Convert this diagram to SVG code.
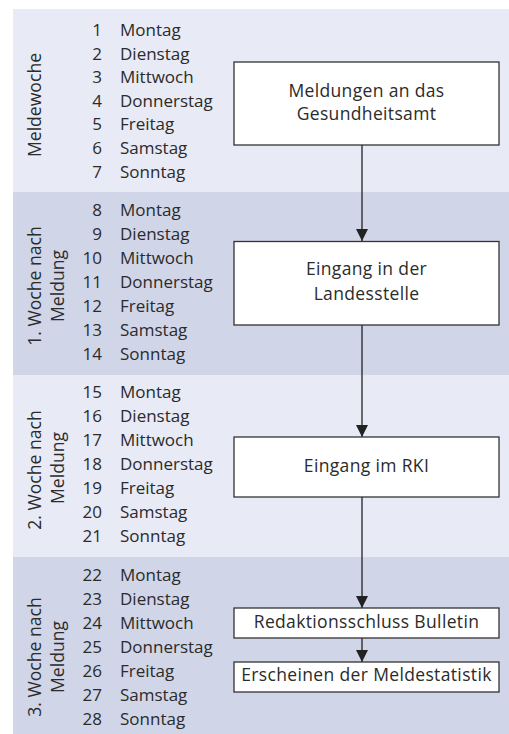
<svg xmlns="http://www.w3.org/2000/svg" width="509" height="734" viewBox="0 0 509 734">
<style>
text{font-family:"Open Sans","Noto Sans","DejaVu Sans",sans-serif;font-size:17px;fill:#2b2b2b}
.n{text-anchor:end}
.c{text-anchor:middle}
.v{text-anchor:middle;font-size:17.6px}
.b{text-anchor:middle;font-size:17.5px;letter-spacing:0.35px}
.box{fill:#fff;stroke:#333;stroke-width:1.3}
.ln{stroke:#222;stroke-width:1.3;fill:none}
</style>
<defs>
<marker id="ah" markerWidth="12" markerHeight="12" viewBox="0 0 12 12" refX="12" refY="6" orient="auto" markerUnits="userSpaceOnUse">
<path d="M0,0 L12,6 L0,12 Z" fill="#222"/>
</marker>
</defs>
<g id="bands">
<rect x="13" y="9" width="496" height="183" fill="#e8eaf5"/>
<rect x="13" y="192" width="496" height="183" fill="#d0d5e8"/>
<rect x="13" y="375" width="496" height="182" fill="#e8eaf5"/>
<rect x="13" y="557" width="496" height="177" fill="#d0d5e8"/>
</g>
<g id="week0">
<text class="v" transform="translate(41,105) rotate(-90)">Meldewoche</text>
<text class="n" x="102" y="36">1</text><text x="120" y="36">Montag</text>
<text class="n" x="102" y="60">2</text><text x="120" y="60">Dienstag</text>
<text class="n" x="102" y="83">3</text><text x="120" y="83">Mittwoch</text>
<text class="n" x="102" y="107">4</text><text x="120" y="107">Donnerstag</text>
<text class="n" x="102" y="130">5</text><text x="120" y="130">Freitag</text>
<text class="n" x="102" y="154">6</text><text x="120" y="154">Samstag</text>
<text class="n" x="102" y="178">7</text><text x="120" y="178">Sonntag</text>
</g>
<g id="week1">
<text class="v" transform="translate(41,286) rotate(-90)">1. Woche nach</text>
<text class="v" transform="translate(64,286) rotate(-90)">Meldung</text>
<text class="n" x="102" y="216">8</text><text x="120" y="216">Montag</text>
<text class="n" x="102" y="240">9</text><text x="120" y="240">Dienstag</text>
<text class="n" x="102" y="264">10</text><text x="120" y="264">Mittwoch</text>
<text class="n" x="102" y="288">11</text><text x="120" y="288">Donnerstag</text>
<text class="n" x="102" y="312">12</text><text x="120" y="312">Freitag</text>
<text class="n" x="102" y="336">13</text><text x="120" y="336">Samstag</text>
<text class="n" x="102" y="360">14</text><text x="120" y="360">Sonntag</text>
</g>
<g id="week2">
<text class="v" transform="translate(41,470) rotate(-90)">2. Woche nach</text>
<text class="v" transform="translate(64,468) rotate(-90)">Meldung</text>
<text class="n" x="102" y="398">15</text><text x="120" y="398">Montag</text>
<text class="n" x="102" y="422">16</text><text x="120" y="422">Dienstag</text>
<text class="n" x="102" y="446">17</text><text x="120" y="446">Mittwoch</text>
<text class="n" x="102" y="470">18</text><text x="120" y="470">Donnerstag</text>
<text class="n" x="102" y="494">19</text><text x="120" y="494">Freitag</text>
<text class="n" x="102" y="518">20</text><text x="120" y="518">Samstag</text>
<text class="n" x="102" y="542">21</text><text x="120" y="542">Sonntag</text>
</g>
<g id="week3">
<text class="v" transform="translate(41,657) rotate(-90)">3. Woche nach</text>
<text class="v" transform="translate(64,657) rotate(-90)">Meldung</text>
<text class="n" x="102" y="581">22</text><text x="120" y="581">Montag</text>
<text class="n" x="102" y="605">23</text><text x="120" y="605">Dienstag</text>
<text class="n" x="102" y="629">24</text><text x="120" y="629">Mittwoch</text>
<text class="n" x="102" y="653">25</text><text x="120" y="653">Donnerstag</text>
<text class="n" x="102" y="677">26</text><text x="120" y="677">Freitag</text>
<text class="n" x="102" y="701">27</text><text x="120" y="701">Samstag</text>
<text class="n" x="102" y="725">28</text><text x="120" y="725">Sonntag</text>
</g>
<g id="connectors">
<line class="ln" x1="362" y1="145" x2="362" y2="241" marker-end="url(#ah)"/>
<line class="ln" x1="362" y1="325" x2="362" y2="437" marker-end="url(#ah)"/>
<line class="ln" x1="362" y1="497" x2="362" y2="608" marker-end="url(#ah)"/>
<line class="ln" x1="362" y1="638" x2="362" y2="662" marker-end="url(#ah)"/>
</g>
<g id="n1">
<rect class="box" x="234" y="62" width="265" height="83"/>
<text class="b" x="366.5" y="97">Meldungen an das</text>
<text class="b" x="366.5" y="120">Gesundheitsamt</text>
</g>
<g id="n2">
<rect class="box" x="234" y="241.5" width="265" height="83.5"/>
<text class="b" x="366.5" y="275">Eingang in der</text>
<text class="b" x="366.5" y="300">Landesstelle</text>
</g>
<g id="n3">
<rect class="box" x="234" y="437" width="265" height="60"/>
<text class="b" x="366.5" y="472">Eingang im RKI</text>
</g>
<g id="n4">
<rect class="box" x="234" y="608" width="265" height="30"/>
<text class="b" x="366.5" y="628">Redaktionsschluss Bulletin</text>
</g>
<g id="n5">
<rect class="box" x="234" y="662" width="265" height="30"/>
<text class="b" x="366.5" y="681">Erscheinen der Meldestatistik</text>
</g>
</svg>
